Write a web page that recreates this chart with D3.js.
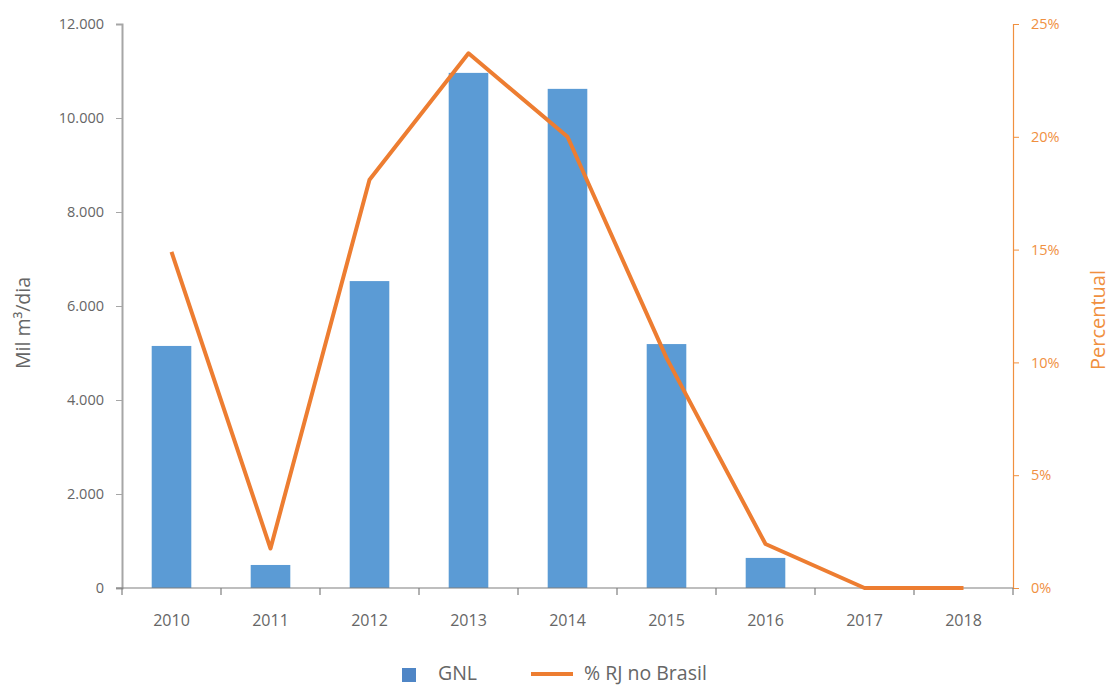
<!DOCTYPE html>
<html><head><meta charset="utf-8">
<script src="https://cdn.jsdelivr.net/npm/d3@7"></script>
<style>body{margin:0;background:#fff;}
text{font-family:"Open Sans",Lato,sans-serif;}</style>
</head><body>
<svg id="c" width="1112" height="686"></svg>
<script>
const years = ["2010","2011","2012","2013","2014","2015","2016","2017","2018"];
const gnl = [5150, 490, 6530, 10960, 10620, 5190, 640, 0, 0];
const pctRJ = [14.9, 1.75, 18.1, 23.7, 20.0, 10.2, 1.95, 0, 0];
const leftTicks = [0, 2000, 4000, 6000, 8000, 10000, 12000];
const rightTicks = [0, 5, 10, 15, 20, 25];

const svg = d3.select("#c");
const L = 122, R = 1013, T = 24, B = 588;
const grey = "#666666", axisGrey = "#A6A6A6", orange = "#ED7D31", orangeTxt = "#F0903F";
const FF = "'Open Sans', Lato, sans-serif";

const x = d3.scaleBand().domain(years).range([L, R]).paddingInner(0.6).paddingOuter(0.3);
const xb = d3.scaleBand().domain(years).range([L, R]);
const y = d3.scaleLinear().domain([0, 12000]).range([B, T]);
const y2 = d3.scaleLinear().domain([0, 25]).range([B, T]);
const fmt = d => d3.format(",")(d).replace(/,/g, ".");

// bars
svg.append("g").selectAll("rect").data(years).join("rect")
  .attr("x", d => x(d)).attr("width", x.bandwidth())
  .attr("y", (d,i) => y(gnl[i])).attr("height", (d,i) => B - y(gnl[i]))
  .attr("fill", "#5B9BD5");

// left axis
const ga = svg.append("g").attr("transform", `translate(${L},0)`)
  .call(d3.axisLeft(y).tickValues(leftTicks).tickFormat(fmt).tickSize(6).tickPadding(12));
ga.select(".domain").attr("stroke", axisGrey).attr("stroke-width", 2);
ga.selectAll(".tick line").attr("stroke", axisGrey);
ga.selectAll("text").attr("fill", grey).style("font-size", "14.5px").style("font-family", FF);

// right axis
const gr = svg.append("g").attr("transform", `translate(${R},0)`)
  .call(d3.axisRight(y2).tickValues(rightTicks).tickFormat(d => d + "%").tickSize(6).tickPadding(12));
gr.select(".domain").attr("stroke", orangeTxt).attr("stroke-width", 1.2);
gr.selectAll(".tick line").attr("stroke", orangeTxt);
gr.selectAll("text").attr("fill", orangeTxt).style("font-size", "14.5px").style("font-family", FF);

// x axis
const gx = svg.append("g").attr("transform", `translate(0,${B})`)
  .call(d3.axisBottom(xb).tickSize(0).tickPadding(27));
gx.select(".domain").remove();
gx.selectAll("text").attr("fill", grey).style("font-size", "16px").style("font-family", FF);
svg.append("line").attr("x1", L - 6).attr("x2", R).attr("y1", B).attr("y2", B)
  .attr("stroke", "#7F7F7F").attr("stroke-width", 1.2);
const bounds = years.map(d => xb(d)).concat([R]);
svg.append("g").selectAll("line").data(bounds).join("line")
  .attr("x1", d => d).attr("x2", d => d).attr("y1", B).attr("y2", B + 7)
  .attr("stroke", "#7F7F7F").attr("stroke-width", 1.2);

// line
const line = d3.line().x((d,i) => xb(years[i]) + xb.bandwidth()/2).y(d => y2(d));
svg.append("path").datum(pctRJ).attr("d", line).attr("fill", "none")
  .attr("stroke", orange).attr("stroke-width", 4).attr("stroke-linejoin", "round");

// axis titles
svg.append("text").attr("transform", "translate(30,323) rotate(-90)").attr("text-anchor", "middle")
  .attr("fill", grey).style("font-size", "19.5px").style("font-family", FF).text("Mil m³/dia");
svg.append("text").attr("transform", "translate(1105,320) rotate(-90)").attr("text-anchor", "middle")
  .attr("fill", orangeTxt).style("font-size", "20px").style("font-family", FF).text("Percentual");

// legend
const lg = svg.append("g");
lg.append("rect").attr("x", 402).attr("y", 668).attr("width", 14).attr("height", 14).attr("fill", "#4F86C6");
lg.append("text").attr("x", 438).attr("y", 680).attr("fill", grey).style("font-size", "19.5px").style("font-family", FF).text("GNL");
lg.append("line").attr("x1", 531).attr("x2", 573).attr("y1", 674).attr("y2", 674).attr("stroke", orange).attr("stroke-width", 4);
lg.append("text").attr("x", 584).attr("y", 680).attr("fill", grey).style("font-size", "19.5px").style("font-family", FF).text("% RJ no Brasil");
</script>
</body></html>
